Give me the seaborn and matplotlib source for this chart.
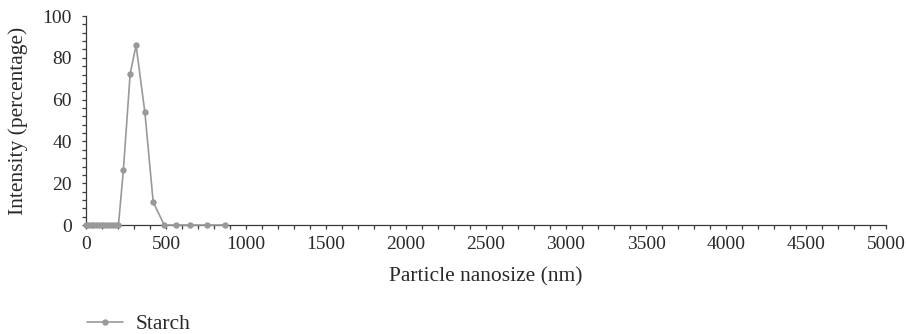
import matplotlib
matplotlib.use("Agg")
import matplotlib.pyplot as plt
from matplotlib.ticker import MultipleLocator
import seaborn as sns
import pandas as pd

size_nm = [1, 15, 30, 45, 62, 80, 98, 115, 132, 150, 168, 186, 203,
           234, 276, 313, 368, 420, 489, 562, 650, 754, 867]
intensity = [0, 0, 0, 0, 0, 0, 0, 0, 0, 0, 0, 0, 0,
             26.5, 72.3, 86.0, 54.0, 11.0, 0, 0, 0, 0, 0]
series_name = "Starch"

df = pd.DataFrame({"size": size_nm, "intensity": intensity, "series": series_name})

sns.set_style("ticks")
plt.rcParams["font.family"] = ["Liberation Serif", "DejaVu Serif"]

fig = plt.figure(figsize=(9.06, 3.34), dpi=100)
ax = fig.add_axes([0.0949, 0.3263, 0.8831, 0.6257])

sns.lineplot(data=df, x="size", y="intensity", hue="series", palette=["#999999"],
             marker="o", markersize=4.6, markeredgewidth=0, linewidth=1.2, ax=ax,
             legend=False, sort=False)
for ln in ax.lines:
    ln.set_clip_on(False)
    ln.set_zorder(3)

ax.set_xlim(0, 5000)
ax.set_ylim(0, 100)
ax.xaxis.set_major_locator(MultipleLocator(500))
ax.xaxis.set_minor_locator(MultipleLocator(100))
ax.yaxis.set_major_locator(MultipleLocator(20))
ax.yaxis.set_minor_locator(MultipleLocator(4))
tick_col = "#3a3a3a"
ax.tick_params(axis="both", which="both", length=3.2, width=0.9, color=tick_col,
               labelsize=14, labelcolor="#2a2a2a", direction="out")
ax.tick_params(axis="x", which="major", pad=5)
ax.tick_params(axis="y", which="major", pad=7)
for s in ["top", "right"]:
    ax.spines[s].set_visible(False)
for s in ["left", "bottom"]:
    ax.spines[s].set_color(tick_col)
    ax.spines[s].set_linewidth(0.9)

ax.set_xlabel("Particle nanosize (nm)", fontsize=15.5, color="#2a2a2a")
ax.set_ylabel("Intensity (percentage)", fontsize=15.5, color="#2a2a2a")
ax.xaxis.label.set_verticalalignment("center")
ax.yaxis.label.set_verticalalignment("center")
ax.xaxis.set_label_coords(0.5, (225 - 277) / 209)
ax.yaxis.set_label_coords((18.5 - 86) / 800, 0.5)

h, = ax.plot([], [], color="#999999", marker="o", markersize=4.6,
             markeredgewidth=0, linewidth=1.2)
leg = fig.legend([h], [series_name], loc="center left",
                 bbox_to_anchor=(87 / 906, (334 - 324) / 334), frameon=False,
                 fontsize=15.5, handlelength=1.65, handletextpad=0.6,
                 borderpad=0, borderaxespad=0)
for t in leg.get_texts():
    t.set_color("#2a2a2a")

fig.savefig("out.png", dpi=100)
